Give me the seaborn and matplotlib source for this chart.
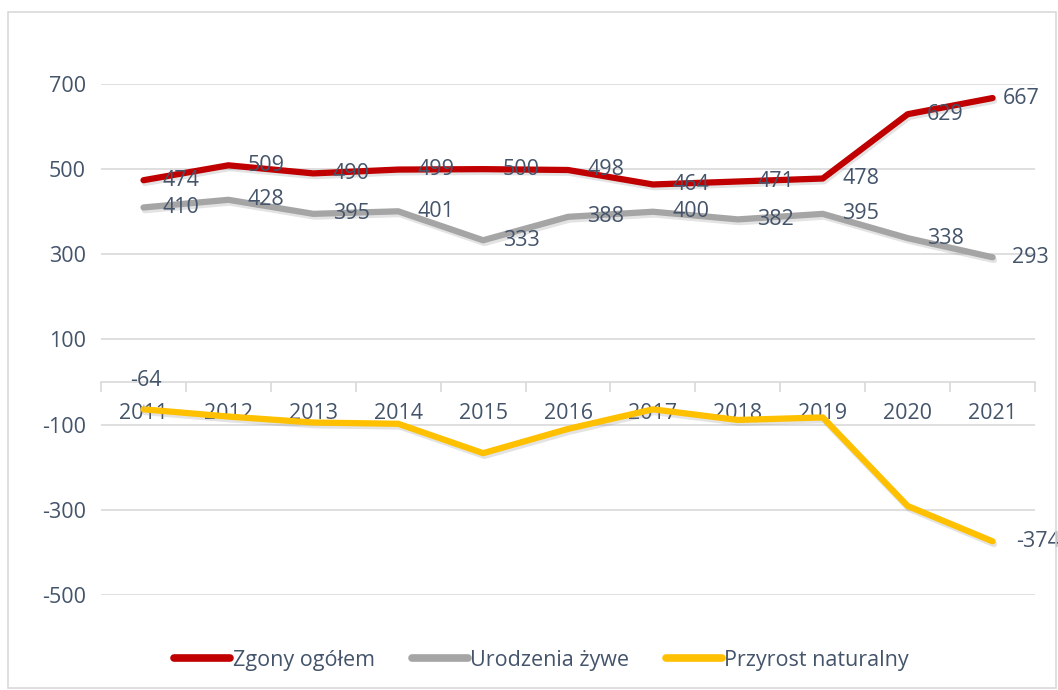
import pandas as pd
import seaborn as sns
import matplotlib.pyplot as plt
import matplotlib.patheffects as pe
from matplotlib.patches import Rectangle
from matplotlib.ticker import FixedLocator

# Data
years = [2011, 2012, 2013, 2014, 2015, 2016, 2017, 2018, 2019, 2020, 2021]
zgony = [474, 509, 490, 499, 500, 498, 464, 471, 478, 629, 667]
urodzenia = [410, 428, 395, 401, 333, 388, 400, 382, 395, 338, 293]
przyrost = [-64, -81, -95, -98, -167, -110, -64, -89, -83, -291, -374]

series = ["Zgony ogółem", "Urodzenia żywe", "Przyrost naturalny"]
colors = ["#C00000", "#A5A5A5", "#FFC000"]
text_color = "#44546A"
grid_color = "#D9D9D9"

df = pd.DataFrame({
    "Rok": years * 3,
    "Wartość": zgony + urodzenia + przyrost,
    "Seria": [series[0]] * 11 + [series[1]] * 11 + [series[2]] * 11,
})

sns.set_theme(style="white")
plt.rcParams["font.family"] = ["Open Sans", "DejaVu Sans"]
plt.rcParams["axes.unicode_minus"] = False
fs = 15.5

fig = plt.figure(figsize=(10.58, 6.9), dpi=100)
ax = fig.add_axes([0.0955, 0.1377, 0.8828, 0.7406])

sns.lineplot(data=df, x="Rok", y="Wartość", hue="Seria", palette=colors,
             hue_order=series, linewidth=4.5, ax=ax, legend=True)

shadow = [pe.SimpleLineShadow(offset=(1, -2), shadow_color="#808080", alpha=0.22),
          pe.Normal()]
for line in ax.get_lines():
    line.set_path_effects(shadow)
    line.set_solid_capstyle("round")
    line.set_solid_joinstyle("round")

ax.set_ylim(-500, 700)
ax.set_xlim(2010.5, 2021.5)
ax.set_yticks([700, 500, 300, 100, -100, -300, -500])
ax.yaxis.grid(True, color=grid_color, linewidth=1.2)
ax.set_axisbelow(True)

for s in ["top", "right", "left"]:
    ax.spines[s].set_visible(False)
ax.spines["bottom"].set_position(("data", 0))
ax.spines["bottom"].set_color(grid_color)
ax.spines["bottom"].set_linewidth(1.2)

ax.set_xticks(years)
ax.set_xticklabels([str(y) for y in years])
ax.xaxis.set_minor_locator(FixedLocator([y + 0.5 for y in [2010] + years]))
ax.tick_params(axis="x", which="major", length=0, pad=15, labelsize=fs,
               labelcolor=text_color)
ax.tick_params(axis="x", which="minor", length=7, width=1.2, color=grid_color,
               direction="out", bottom=True)
ax.tick_params(axis="y", length=0, pad=11, labelsize=fs, labelcolor=text_color)
ax.set_xlabel("")
ax.set_ylabel("")

# data labels (to the right of the points)
lab = dict(fontsize=fs, color=text_color, va="center", ha="left")
for x, v in zip(years, zgony):
    dx = 7 if x == years[-1] else 14
    ax.annotate(str(v), (x, v), xytext=(dx, 0), textcoords="offset points", **lab)
for x, v in zip(years, urodzenia):
    ax.annotate(str(v), (x, v), xytext=(14, 0), textcoords="offset points", **lab)
ax.annotate(str(przyrost[-1]), (years[-1], przyrost[-1]), xytext=(17, 0),
            textcoords="offset points", **lab)
ax.annotate(str(przyrost[0]), (years[0], przyrost[0]), xytext=(2, 21),
            textcoords="offset points", ha="center", va="center",
            fontsize=fs, color=text_color,
            arrowprops=dict(arrowstyle="-", color="#ADB9CA", lw=1,
                            shrinkA=8, shrinkB=4))

handles, labels = ax.get_legend_handles_labels()
ax.get_legend().remove()
leg = fig.legend(handles, labels, loc="center", bbox_to_anchor=(0.512, 0.043),
                 ncol=3, frameon=False, fontsize=15.5, handlelength=2.6,
                 handletextpad=0.12, columnspacing=1.7)
for t in leg.get_texts():
    t.set_color(text_color)
for h in leg.legend_handles:
    h.set_linewidth(5.5)
    h.set_solid_capstyle("round")
    h.set_path_effects([])

fig.patches.append(Rectangle((0.008, 0.003), 0.99, 0.98, transform=fig.transFigure,
                             fill=False, edgecolor=grid_color, linewidth=1.2))

plt.savefig("out.png", dpi=100)
